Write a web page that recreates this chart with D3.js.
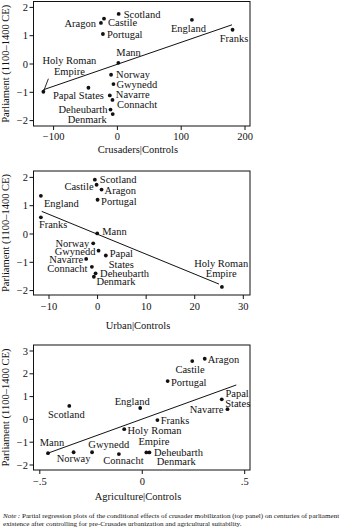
<!DOCTYPE html>
<html><head><meta charset="utf-8">
<script src="https://cdn.jsdelivr.net/npm/d3@7"></script>
<style>
body{margin:0;background:#fff}
svg{display:block;font-family:"Liberation Serif","Times New Roman",serif}
</style>
</head><body>
<svg id="c" width="350" height="527"></svg>
<script>
// ---------------- data ----------------
const countries = ["Aragon","Castile","Connacht","Deheubarth","Denmark","England","Franks","Gwynedd","Holy Roman Empire","Mann","Navarre","Norway","Papal States","Portugal","Scotland"];

const crusadersX = [-25.8,-21,-7.7,-10.8,-7.3,116.8,180.5,-6.2,-116,1.5,-11.9,-9.9,-45.4,-22.7,2];
const crusadersY = [1.45,1.6,-1.27,-1.61,-1.77,1.56,1.21,-0.71,-0.98,0.04,-1.11,-0.38,-0.84,1.06,1.77];

const urbanX = [0.82,-0.2,-1.17,-0.41,-0.76,-11.67,-11.67,0.2,25.6,-0.08,-2.35,-0.9,1.7,0,-0.56];
const urbanY = [1.57,1.74,-1.16,-1.39,-1.51,1.35,0.59,-0.59,-1.87,0.02,-0.88,-0.33,-0.76,1.21,1.92];

const agricX = [0.305,0.244,-0.114,0.035,0.02,-0.01,0.074,-0.245,-0.088,-0.46,0.416,-0.335,0.388,0.124,-0.356];
const agricY = [2.66,2.56,-1.52,-1.45,-1.45,0.5,-0.03,-1.44,-0.43,-1.48,0.45,-1.44,0.88,1.68,0.59];

// fitted lines (endpoints)
const fitCrusadersX = [-116, 179.6], fitCrusadersY = [-0.91, 1.385];
const fitUrbanX = [-11.5, 25.0], fitUrbanY = [0.80, -1.77];
const fitAgricX = [-0.46, 0.459], fitAgricY = [-1.48, 1.51];

const ticksCrusadersX = [-100,0,100,200];
const ticksUrbanX = [-10,0,10,20,30];
const ticksAgricX = [-0.5,0,0.5];
const ticksY12 = [-2,-1,0,1,2];
const ticksY3 = [-2,-1,0,1,2,3];

const titlesX = ["Crusaders|Controls","Urban|Controls","Agriculture|Controls"];
const titleY = "Parliament (1100\u20131400 CE)";

// ---------------- layout (label placement, pixels) ----------------
const labels1 = {
  "Aragon":[["Aragon",-5,1,"end"]],
  "Castile":[["Castile",4,4,"start"]],
  "Connacht":[["Connacht",4.5,4.5,"start"]],
  "Deheubarth":[["Deheubarth",-3,0,"end"]],
  "Denmark":[["Denmark",-6,5,"end"]],
  "England":[["England",-3.5,9,"middle"]],
  "Franks":[["Franks",1.5,8.5,"middle"]],
  "Gwynedd":[["Gwynedd",3,0.5,"start"]],
  "Holy Roman Empire":[["Holy Roman",26,-31,"middle"],["Empire",26,-20.3,"middle"]],
  "Mann":[["Mann",-2,-10.5,"start"]],
  "Navarre":[["Navarre",6,-0.5,"start"]],
  "Norway":[["Norway",5,0,"start"]],
  "Papal States":[["Papal States",-10,7.5,"middle"]],
  "Portugal":[["Portugal",4,0.5,"start"]],
  "Scotland":[["Scotland",5,0.5,"start"]]
};
const labels2 = {
  "Aragon":[["Aragon",3,1,"start"]],
  "Castile":[["Castile",-3,2,"end"]],
  "Connacht":[["Connacht",-4.5,1.5,"end"]],
  "Deheubarth":[["Deheubarth",4.5,0.5,"start"]],
  "Denmark":[["Denmark",2.5,5,"start"]],
  "England":[["England",3,7.5,"start"]],
  "Franks":[["Franks",-2,7.5,"start"]],
  "Gwynedd":[["Gwynedd",-3,1,"end"]],
  "Holy Roman Empire":[["Holy Roman",-0.7,-23,"middle"],["Empire",-0.7,-13,"middle"]],
  "Mann":[["Mann",5,-2,"start"]],
  "Navarre":[["Navarre",-3,1,"end"]],
  "Norway":[["Norway",-4,0,"end"]],
  "Papal States":[["Papal",15.5,-2,"middle"],["States",15.5,9,"middle"]],
  "Portugal":[["Portugal",3.5,1.5,"start"]],
  "Scotland":[["Scotland",5,0,"start"]]
};
const labels3 = {
  "Aragon":[["Aragon",3,0.3,"start"]],
  "Castile":[["Castile",-2.2,8,"middle"]],
  "Connacht":[["Connacht",4.6,6.7,"middle"]],
  "Deheubarth":[["Deheubarth",4.5,0,"start"]],
  "Denmark":[["Denmark",10.3,8.7,"start"]],
  "England":[["England",-8,-6.3,"middle"]],
  "Franks":[["Franks",3.3,0,"start"]],
  "Gwynedd":[["Gwynedd",16.7,-7.7,"middle"]],
  "Holy Roman Empire":[["Holy Roman",3.3,1.7,"start"],["Empire",29.7,12,"middle"]],
  "Mann":[["Mann",4,-10.3,"middle"]],
  "Navarre":[["Navarre",-4,0,"end"]],
  "Norway":[["Norway",0,6.3,"middle"]],
  "Papal States":[["Papal",3.7,-6.3,"start"],["States",3.4,4.4,"start"]],
  "Portugal":[["Portugal",3.3,1.3,"start"]],
  "Scotland":[["Scotland",-3,9,"middle"]]
};

const panels = [
  {xs:crusadersX, ys:crusadersY, fx:fitCrusadersX, fy:fitCrusadersY, xt:ticksCrusadersX, yt:ticksY12,
   xDom:[-100,200], xRng:[53.6,245], yDom:[-2,2], yRng:[120.6,7.4],
   frame:[33.5,1.5,250,126], tickLabY:139.5, titleBase:152.8, title:titlesX[0], labels:labels1,
   leader:{name:"Holy Roman Empire", dx:5, dy:-13}, fmt:d=>d<0?"\u2212"+Math.abs(d):String(d)},
  {xs:urbanX, ys:urbanY, fx:fitUrbanX, fy:fitUrbanY, xt:ticksUrbanX, yt:ticksY12,
   xDom:[-10,30], xRng:[49,243.3], yDom:[-2,2], yRng:[290.6,177.4],
   frame:[33.5,171,250,295], tickLabY:310.2, titleBase:328.5, title:titlesX[1], labels:labels2,
   fmt:d=>d<0?"\u2212"+Math.abs(d):String(d)},
  {xs:agricX, ys:agricY, fx:fitAgricX, fy:fitAgricY, xt:ticksAgricX, yt:ticksY3,
   xDom:[-0.5,0.5], xRng:[39.8,244.7], yDom:[-2,3], yRng:[465,351],
   frame:[33.5,345,250,470], tickLabY:485.2, titleBase:499.5, title:titlesX[2], labels:labels3,
   fmt:d=>d===0?"0":(d<0?"\u2212":"")+String(Math.abs(d)).replace(/^0/,"")}
];

const svg = d3.select("#c");
const FS = 10.5;
const ink = "#111";

panels.forEach(p => {
  const x = d3.scaleLinear().domain(p.xDom).range(p.xRng);
  const y = d3.scaleLinear().domain(p.yDom).range(p.yRng);
  const [fx0, fy0, fx1, fy1] = p.frame;
  const g = svg.append("g");

  // frame
  g.append("rect").attr("x",fx0).attr("y",fy0).attr("width",fx1-fx0).attr("height",fy1-fy0)
    .attr("fill","none").attr("stroke",ink).attr("stroke-width",1);

  // x axis ticks
  const xa = g.append("g").attr("transform",`translate(0,${fy1})`);
  xa.selectAll("line").data(p.xt).join("line")
    .attr("x1",d=>x(d)).attr("x2",d=>x(d)).attr("y1",0).attr("y2",4)
    .attr("stroke",ink).attr("stroke-width",1);
  g.selectAll("text.xt").data(p.xt).join("text").attr("class","xt")
    .attr("x",d=>x(d)).attr("y",p.tickLabY).attr("text-anchor","middle")
    .attr("font-size",FS).attr("fill",ink).text(p.fmt);

  // y axis ticks
  g.selectAll("line.yt").data(p.yt).join("line").attr("class","yt")
    .attr("x1",fx0-4).attr("x2",fx0).attr("y1",d=>y(d)).attr("y2",d=>y(d))
    .attr("stroke",ink).attr("stroke-width",1);
  g.selectAll("text.yt").data(p.yt).join("text").attr("class","yt")
    .attr("x",28).attr("y",d=>y(d)+3.5).attr("text-anchor","end")
    .attr("font-size",FS).attr("fill",ink).text(p.fmt);

  // titles
  g.append("text").attr("x",138).attr("y",p.titleBase).attr("text-anchor","middle")
    .attr("font-size",FS).attr("fill",ink).text(p.title);
  const cy = (fy0+fy1)/2;
  g.append("text").attr("transform",`translate(8.5,${cy}) rotate(-90)`).attr("text-anchor","middle")
    .attr("font-size",FS).attr("fill",ink).text(titleY);

  // fit line
  const line = d3.line().x(d=>x(d[0])).y(d=>y(d[1]));
  g.append("path").attr("d",line(d3.zip(p.fx,p.fy))).attr("fill","none")
    .attr("stroke",ink).attr("stroke-width",1);

  // points
  const pts = countries.map((c,i)=>({name:c, x:p.xs[i], y:p.ys[i]}));
  g.selectAll("circle").data(pts).join("circle")
    .attr("cx",d=>x(d.x)).attr("cy",d=>y(d.y)).attr("r",1.9).attr("fill",ink);

  // leader line
  if (p.leader) {
    const d = pts.find(q=>q.name===p.leader.name);
    g.append("line").attr("x1",x(d.x)).attr("y1",y(d.y))
      .attr("x2",x(d.x)+p.leader.dx).attr("y2",y(d.y)+p.leader.dy)
      .attr("stroke",ink).attr("stroke-width",0.9);
  }

  // labels
  pts.forEach(d => {
    (p.labels[d.name]||[]).forEach(([t,dx,dy,anc]) => {
      g.append("text").attr("x",x(d.x)+dx).attr("y",y(d.y)+dy+3.5)
        .attr("text-anchor",anc).attr("font-size",FS).attr("fill",ink).text(t);
    });
  });
});

// note
const noteLines = [
  ["Note\u2009:", " Partial regression plots of the conditional effects of crusader mobilization (top panel) on centuries of parliament"],
  ["", "existence after controlling for pre-Crusades urbanization and agricultural suitability."]
];
noteLines.forEach((ln,i)=>{
  const t = svg.append("text").attr("x",3).attr("y",517.5+i*8).attr("font-size",7.1).attr("fill",ink);
  if (ln[0]) t.append("tspan").attr("font-style","italic").text(ln[0]);
  t.append("tspan").text(ln[1]);
});
</script>
</body></html>
